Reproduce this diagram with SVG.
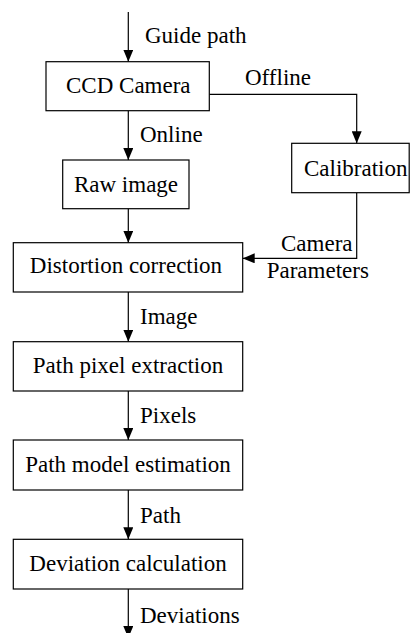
<svg xmlns="http://www.w3.org/2000/svg" width="411" height="633" viewBox="0 0 411 633">
<style>
.box{fill:#fff;stroke:#000;stroke-width:1.2}
.t{font-family:"Liberation Serif","Times New Roman",serif;font-size:23px;fill:#000}
.c{text-anchor:middle}
.ln{fill:none;stroke:#000;stroke-width:1.2}
</style>
<defs>
<marker id="ah" viewBox="0 0 12 10" refX="12" refY="5" markerWidth="12" markerHeight="10" markerUnits="userSpaceOnUse" orient="auto">
<path d="M0,0 L12,5 L0,10 Z" fill="#000"/>
</marker>
</defs>
<g id="connectors">
<path class="ln" d="M128.3,12 V61.7" marker-end="url(#ah)"/>
<path class="ln" d="M128.3,110.7 V160" marker-end="url(#ah)"/>
<path class="ln" d="M209.3,94.3 H356.7 V143.3" marker-end="url(#ah)"/>
<path class="ln" d="M128.3,208.7 V242.7" marker-end="url(#ah)"/>
<path class="ln" d="M356.7,192.7 V258.3 H242.7" marker-end="url(#ah)"/>
<path class="ln" d="M128.3,292 V341.7" marker-end="url(#ah)"/>
<path class="ln" d="M128.3,391 V440" marker-end="url(#ah)"/>
<path class="ln" d="M128.3,490 V539.3" marker-end="url(#ah)"/>
<path class="ln" d="M128.3,589 V638" marker-end="url(#ah)"/>
<text class="t" x="145" y="43.3">Guide path</text>
<text class="t" x="245" y="85">Offline</text>
<text class="t" x="140" y="141.7">Online</text>
<text class="t" x="281" y="250.7">Camera</text>
<text class="t" x="266.7" y="278.3">Parameters</text>
<text class="t" x="140" y="324">Image</text>
<text class="t" x="140" y="423.3">Pixels</text>
<text class="t" x="140" y="523.3">Path</text>
<text class="t" x="140" y="623.3">Deviations</text>
</g>
<g id="ccd">
<rect class="box" x="46" y="61.7" width="163.3" height="49"/>
<text class="t c" x="128.3" y="93.3">CCD Camera</text>
</g>
<g id="calibration">
<rect class="box" x="291.7" y="143.3" width="117.5" height="49.4"/>
<text class="t" x="304" y="175.7">Calibration</text>
</g>
<g id="raw">
<rect class="box" x="62.7" y="160" width="126.3" height="48.7"/>
<text class="t c" x="126" y="192.3">Raw image</text>
</g>
<g id="distortion">
<rect class="box" x="13.3" y="242.7" width="229.4" height="49.3"/>
<text class="t c" x="126" y="273.3">Distortion correction</text>
</g>
<g id="pixel">
<rect class="box" x="13.3" y="341.7" width="229.4" height="49.3"/>
<text class="t c" x="128" y="373.3">Path pixel extraction</text>
</g>
<g id="model">
<rect class="box" x="13.3" y="440" width="229.4" height="50"/>
<text class="t c" x="128" y="472">Path model estimation</text>
</g>
<g id="deviation">
<rect class="box" x="13.3" y="539.3" width="229.4" height="49.7"/>
<text class="t c" x="128" y="570.7">Deviation calculation</text>
</g>
</svg>
